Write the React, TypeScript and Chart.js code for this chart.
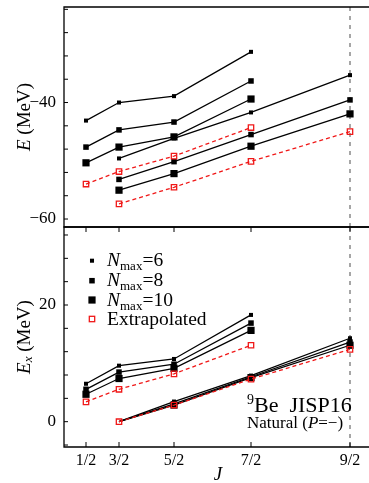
import { useEffect, useRef } from 'react';
import { Chart, registerables } from 'chart.js';
Chart.register(...registerables);

// ---------- data ----------
const jLabels = ['1/2', '3/2', '5/2', '7/2', '9/2'];
const jValues = [0.5, 1.5, 2.5, 3.5, 4.5];
// band A spans J = 1/2 .. 7/2, band B spans J = 3/2 .. 9/2
const bandA = [0, 1, 2, 3];
const bandB = [1, 2, 3, 4];

// top panel: E (MeV)
const E_n6_A = [-43.1, -40.0, -38.9, -31.3];
const E_n8_A = [-47.65, -44.7, -43.35, -36.3];
const E_n10_A = [-50.35, -47.65, -45.9, -39.4];
const E_ext_A = [-54.0, -51.85, -49.2, -44.3];
const E_n6_B = [-49.6, -46.15, -41.7, -35.3];
const E_n8_B = [-53.2, -50.15, -45.5, -39.55];
const E_n10_B = [-55.05, -52.2, -47.5, -41.95];
const E_ext_B = [-57.4, -54.55, -50.1, -45.0];

// bottom panel: Ex (MeV)
const Ex_n6_A = [6.5, 9.6, 10.75, 18.3];
const Ex_n8_A = [5.55, 8.5, 9.85, 16.9];
const Ex_n10_A = [4.7, 7.4, 9.15, 15.65];
const Ex_ext_A = [3.4, 5.55, 8.2, 13.1];
const Ex_n6_B = [0, 3.45, 7.9, 14.3];
const Ex_n8_B = [0, 3.05, 7.7, 13.65];
const Ex_n10_B = [0, 2.85, 7.55, 13.1];
const Ex_ext_B = [0, 2.85, 7.3, 12.4];

const yTopLabels = [-60, -40];
const yTopMinor = [-60, -56, -52, -48, -44, -40, -36, -32, -28, -24];
const yBotLabels = [0, 20];
const yBotMinor = [-4, 0, 4, 8, 12, 16, 20, 24, 28, 32];

const legendLabels = ['6', '8', '10'];

// ---------- helpers ----------
const SERIF = '"Liberation Serif", "DejaVu Serif", serif';
const xOf = (j: number) => j * (j + 1);
const xTicks = jValues.map(xOf);

function pts(idx: number[], vals: number[]) {
  return idx.map((i, k) => ({ x: xOf(jValues[i]), y: vals[k] }));
}

const R_SMALL = 2.85;
const R_MED = 3.9;
const R_LARGE = 5.1;
const R_EXT = 3.8;

function blackDs(data: any[], r: number | number[]) {
  return {
    data,
    borderColor: '#000',
    borderWidth: 1.3,
    pointStyle: 'rect',
    pointRadius: r,
    pointBackgroundColor: '#000',
    pointBorderWidth: 0,
    fill: false,
    tension: 0,
  };
}
function redDs(data: any[]) {
  return {
    data,
    borderColor: '#f01818',
    borderWidth: 1.3,
    borderDash: [4, 3],
    pointStyle: 'rect',
    pointRadius: R_EXT,
    pointBackgroundColor: 'rgba(255,255,255,0)',
    pointBorderColor: '#f01818',
    pointBorderWidth: 1.3,
    fill: false,
    tension: 0,
  };
}

type Part = { t: string; f: string; dy?: number };
function richWidth(ctx: CanvasRenderingContext2D, parts: Part[]) {
  let w = 0;
  for (const p of parts) {
    ctx.font = p.f;
    w += ctx.measureText(p.t).width;
  }
  return w;
}
function drawRich(ctx: CanvasRenderingContext2D, parts: Part[], x: number, y: number) {
  let cx = x;
  for (const p of parts) {
    ctx.font = p.f;
    ctx.fillText(p.t, cx, y + (p.dy || 0));
    cx += ctx.measureText(p.t).width;
  }
}

function fmt(v: number) {
  return v < 0 ? '\u2212' + Math.abs(v) : String(v);
}

function drawVDash(chart: any) {
  const { ctx, chartArea, scales } = chart;
  const px = scales.x.getPixelForValue(xTicks[4]);
  ctx.save();
  ctx.strokeStyle = '#777';
  ctx.lineWidth = 1.3;
  ctx.setLineDash([4, 5]);
  ctx.beginPath();
  ctx.moveTo(px, chartArea.top);
  ctx.lineTo(px, chartArea.bottom);
  ctx.stroke();
  ctx.restore();
}

function drawFrame(chart: any, minor: number[], xTickTop: boolean, xTickBottom: boolean) {
  const { ctx, chartArea, scales } = chart;
  const { left, right, top, bottom } = chartArea;
  ctx.save();
  ctx.strokeStyle = '#000';
  ctx.lineWidth = 1.3;
  ctx.beginPath();
  ctx.moveTo(right, top);
  ctx.lineTo(left, top);
  ctx.lineTo(left, bottom);
  ctx.lineTo(right, bottom);
  ctx.stroke();
  ctx.lineWidth = 1;
  ctx.beginPath();
  for (const v of minor) {
    const py = scales.y.getPixelForValue(v);
    if (py < top || py > bottom) continue;
    ctx.moveTo(left, py);
    ctx.lineTo(left + 4, py);
  }
  for (const v of xTicks) {
    const px = scales.x.getPixelForValue(v);
    if (xTickTop) {
      ctx.moveTo(px, top);
      ctx.lineTo(px, top + 5);
    }
    if (xTickBottom) {
      ctx.moveTo(px, bottom);
      ctx.lineTo(px, bottom - 5);
    }
  }
  ctx.stroke();
  ctx.restore();
}

function rotatedTitle(ctx: CanvasRenderingContext2D, parts: Part[], cx: number, cy: number) {
  ctx.save();
  ctx.translate(cx, cy);
  ctx.rotate(-Math.PI / 2);
  ctx.fillStyle = '#000';
  ctx.textBaseline = 'middle';
  const w = richWidth(ctx, parts);
  drawRich(ctx, parts, -w / 2, 0);
  ctx.restore();
}

const topPlugin = {
  id: 'topDecor',
  beforeDatasetsDraw(chart: any) {
    drawVDash(chart);
  },
  afterDraw(chart: any) {
    drawFrame(chart, yTopMinor, false, false);
    const ctx = chart.ctx as CanvasRenderingContext2D;
    rotatedTitle(
      ctx,
      [
        { t: 'E', f: `italic 19px ${SERIF}` },
        { t: ' (MeV)', f: `19px ${SERIF}` },
      ],
      25,
      117
    );
  },
};

const botPlugin = {
  id: 'botDecor',
  beforeDatasetsDraw(chart: any) {
    drawVDash(chart);
  },
  afterDraw(chart: any) {
    drawFrame(chart, yBotMinor, true, true);
    const ctx = chart.ctx as CanvasRenderingContext2D;
    const { chartArea } = chart;
    // y title
    rotatedTitle(
      ctx,
      [
        { t: 'E', f: `italic 19px ${SERIF}` },
        { t: 'x', f: `italic 13px ${SERIF}`, dy: 4 },
        { t: ' (MeV)', f: `19px ${SERIF}` },
      ],
      25,
      111
    );

    ctx.save();
    ctx.fillStyle = '#000';
    // x title
    ctx.textBaseline = 'middle';
    ctx.textAlign = 'center';
    ctx.font = `italic 19px ${SERIF}`;
    ctx.fillText('J', (chartArea.left + chartArea.right) / 2, 249);
    ctx.textAlign = 'left';
    ctx.textBaseline = 'alphabetic';

    // legend
    const mx = 92;
    const rows = [34.7, 54.7, 74, 93];
    const sizes = [R_SMALL, R_MED, R_LARGE];
    for (let i = 0; i < 3; i++) {
      const s = sizes[i] * Math.SQRT1_2;
      ctx.fillStyle = '#000';
      ctx.fillRect(mx - s, rows[i] - s, 2 * s, 2 * s);
      drawRich(
        ctx,
        [
          { t: 'N', f: `italic 19.5px ${SERIF}` },
          { t: 'max', f: `13px ${SERIF}`, dy: 4 },
          { t: '=' + legendLabels[i], f: `19.5px ${SERIF}` },
        ],
        107,
        rows[i] + 5.5
      );
    }
    {
      const s = R_EXT * Math.SQRT1_2;
      ctx.strokeStyle = '#f01818';
      ctx.lineWidth = 1.3;
      ctx.strokeRect(mx - s, rows[3] - s, 2 * s, 2 * s);
      ctx.fillStyle = '#000';
      ctx.font = `19.5px ${SERIF}`;
      ctx.fillText('Extrapolated', 107, rows[3] + 5.5);
    }

    // annotation
    drawRich(
      ctx,
      [
        { t: '9', f: `14px ${SERIF}`, dy: -8 },
        { t: 'Be  JISP16', f: `22px ${SERIF}` },
      ],
      247,
      185.5
    );
    drawRich(
      ctx,
      [
        { t: 'Natural (', f: `17px ${SERIF}` },
        { t: 'P', f: `italic 17px ${SERIF}` },
        { t: '=\u2212)', f: `17px ${SERIF}` },
      ],
      247,
      201.5
    );
    ctx.restore();
  },
};

const X_MIN = -1.25;
const X_MAX = 26.75;

function baseX(showLabels: boolean, height: number) {
  return {
    type: 'linear',
    min: X_MIN,
    max: X_MAX,
    afterBuildTicks: (a: any) => {
      a.ticks = xTicks.map((v) => ({ value: v }));
    },
    ticks: {
      display: showLabels,
      autoSkip: false,
      maxRotation: 0,
      padding: 4,
      color: '#000',
      font: { family: SERIF, size: 16 },
      callback: (v: number) => {
        const i = xTicks.findIndex((t) => Math.abs(t - v) < 1e-6);
        return i >= 0 ? jLabels[i] : '';
      },
    },
    grid: { display: false, drawTicks: false },
    border: { display: false },
    afterFit: (s: any) => {
      s.height = height;
      s.paddingLeft = 0;
      s.paddingRight = 0;
      s.paddingTop = 0;
      s.paddingBottom = 0;
    },
  };
}

function baseY(min: number, max: number, labels: number[]) {
  return {
    type: 'linear',
    min,
    max,
    afterBuildTicks: (a: any) => {
      a.ticks = labels.map((v) => ({ value: v }));
    },
    ticks: {
      padding: 8,
      color: '#000',
      font: { family: SERIF, size: 17 },
      callback: (v: number) => fmt(v),
    },
    grid: { display: false, drawTicks: false },
    border: { display: false },
    afterFit: (s: any) => {
      s.width = 64;
      s.paddingLeft = 0;
      s.paddingRight = 0;
      s.paddingTop = 0;
      s.paddingBottom = 0;
    },
  };
}

export default function App() {
  const topRef = useRef<HTMLCanvasElement>(null);
  const botRef = useRef<HTMLCanvasElement>(null);

  useEffect(() => {
    const top = new Chart(topRef.current as HTMLCanvasElement, {
      type: 'line',
      data: {
        datasets: [
          redDs(pts(bandA, E_ext_A)),
          redDs(pts(bandB, E_ext_B)),
          blackDs(pts(bandA, E_n6_A), R_SMALL),
          blackDs(pts(bandA, E_n8_A), R_MED),
          blackDs(pts(bandA, E_n10_A), R_LARGE),
          blackDs(pts(bandB, E_n6_B), R_SMALL),
          blackDs(pts(bandB, E_n8_B), R_MED),
          blackDs(pts(bandB, E_n10_B), R_LARGE),
        ] as any,
      },
      options: {
        animation: false,
        responsive: false,
        events: [],
        layout: { autoPadding: false, padding: { left: 0, right: 0, top: 7, bottom: 2 } },
        plugins: { legend: { display: false }, tooltip: { enabled: false } },
        scales: {
          x: baseX(false, 0),
          y: baseY(-61.37, -23.6, yTopLabels),
        } as any,
      },
      plugins: [topPlugin as any],
    });

    const bot = new Chart(botRef.current as HTMLCanvasElement, {
      type: 'line',
      data: {
        datasets: [
          redDs(pts(bandA, Ex_ext_A)),
          redDs(pts(bandB, Ex_ext_B)),
          blackDs(pts(bandA, Ex_n6_A), R_SMALL),
          blackDs(pts(bandA, Ex_n8_A), R_MED),
          blackDs(pts(bandA, Ex_n10_A), R_LARGE),
          blackDs(pts(bandB, Ex_n6_B), [0, R_SMALL, R_SMALL, R_SMALL]),
          blackDs(pts(bandB, Ex_n8_B), [0, R_MED, R_MED, R_MED]),
          blackDs(pts(bandB, Ex_n10_B), [0, R_LARGE, R_LARGE, R_LARGE]),
        ] as any,
      },
      options: {
        animation: false,
        responsive: false,
        events: [],
        layout: { autoPadding: false, padding: { left: 0, right: 0, top: 1, bottom: 0 } },
        plugins: { legend: { display: false }, tooltip: { enabled: false } },
        scales: {
          x: baseX(true, 36),
          y: baseY(-4.34, 33.37, yBotLabels),
        } as any,
      },
      plugins: [botPlugin as any],
    });

    return () => {
      top.destroy();
      bot.destroy();
    };
  }, []);

  return (
    <div
      style={{
        position: 'absolute',
        left: 0,
        top: 0,
        width: 369,
        height: 483,
        overflow: 'hidden',
        background: '#fff',
      }}
    >
      <canvas
        ref={topRef}
        width={372}
        height={229}
        style={{ position: 'absolute', left: 0, top: 0, width: 372, height: 229 }}
      />
      <canvas
        ref={botRef}
        width={372}
        height={257}
        style={{ position: 'absolute', left: 0, top: 226, width: 372, height: 257 }}
      />
    </div>
  );
}
